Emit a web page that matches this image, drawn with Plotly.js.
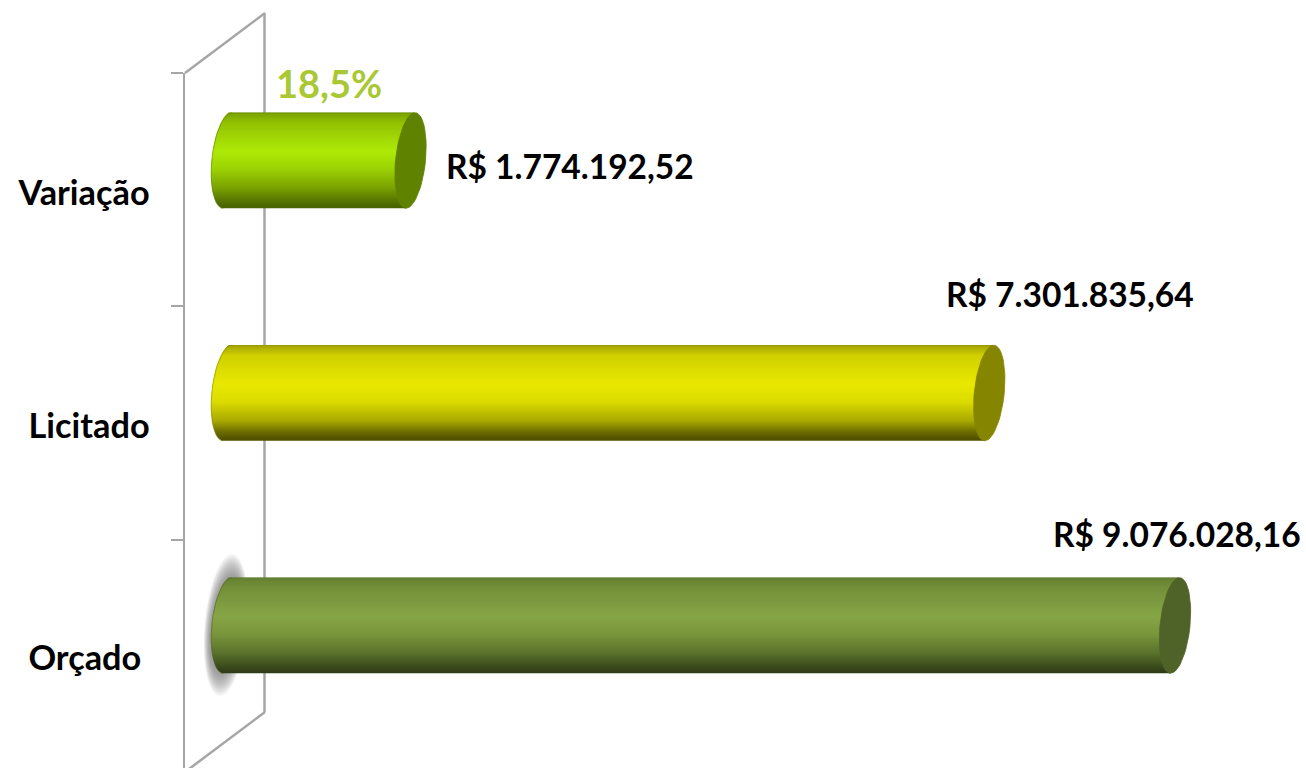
<!DOCTYPE html>
<html>
<head>
<meta charset="utf-8">
<script src="https://cdn.plot.ly/plotly-3.0.1.min.js"></script>
<style>html,body{margin:0;padding:0;background:#fff;overflow:hidden}#chart{width:1306px;height:768px}</style>
</head>
<body>
<div id="chart"></div>
<script>
// ---- data (bottom to top) ----
const categories = ["Orçado\u00a0", "Licitado", "Variação"];
const values = [9076028.16, 7301835.64, 1774192.52];
const valueLabels = ["R$ 9.076.028,16", "R$ 7.301.835,64", "R$ 1.774.192,52"];
const percentLabel = "18,5%";

// ---- styles ----
const capColors = ["#4f6228", "#858500", "#5f8200"];
const stopsAt = [0, 0.03, 0.12, 0.42, 0.6, 0.8, 0.92, 1];
const stopColors = [
  [[90,114,44],[104,130,52],[116,144,58],[134,165,70],[122,150,60],[90,114,44],[64,82,30],[46,58,22]],
  [[140,140,0],[170,170,0],[208,208,0],[232,232,0],[220,220,0],[170,170,0],[110,110,0],[78,78,0]],
  [[100,132,0],[125,166,0],[146,194,2],[174,234,8],[156,210,4],[122,162,0],[90,122,0],[72,98,0]]
];
const FONT = "Lato, 'Open Sans', sans-serif";
const INK = "#000000";

// ---- geometry of the chart frame (pixels) ----
const W = 1306, H = 768, L = 185, T = 73;
const zeroPx = 224.75, pxPerUnit = 104.7e-6;
const rowPx = 232.5, row0Px = 658;
const barShift = 0.14, barHalf = 47.8 / rowPx;
const capA = 15, capSkew = 4.5;
const toValue = p => (p - zeroPx) / pxPerUnit;
const dx = p => p / pxPerUnit;
const toRow = p => (row0Px - p) / rowPx;
const xRange = [toValue(L), toValue(W)];
const yRange = [toRow(H), toRow(T)];

const traces = [];
const strips = 96;
const unit = 2 * barHalf / strips;
function mix(stops, f) {
  let i = 0;
  while (i < stopsAt.length - 2 && f > stopsAt[i + 1]) i++;
  const t = (f - stopsAt[i]) / (stopsAt[i + 1] - stopsAt[i]);
  const c = stops[i].map((v, k) => Math.round(v + (stops[i + 1][k] - v) * t));
  return `rgb(${c[0]},${c[1]},${c[2]})`;
}
const leftCenter = dx(3);
for (let s = 0; s < strips; s++) {
  const f = (s + 0.5) / strips;
  const u = 1 - 2 * f;                       // +1 top, -1 bottom
  const offs = dx(capSkew * u);
  const left = leftCenter + offs - dx(capA + 1) * Math.sqrt(1 - u * u);
  traces.push({
    type: "bar", orientation: "h",
    y: values.map((v, i) => i + barShift),
    x: values.map(v => v + offs - left),
    base: values.map(() => left),
    width: s === 0 ? unit : unit * 2.2,
    offset: barHalf - unit * (s + 1),
    opacity: 1,
    marker: { color: stopColors.map(st => mix(st, f)), opacity: 1, line: { width: 0 } },
    hoverinfo: "skip", showlegend: false
  });
}
// end caps and the left rim, placed from the values
function arc(cx, cy, a0, a1, a) {
  const xs = [], ys = [];
  for (let d = a0; d <= a1; d += 6) {
    const t = d * Math.PI / 180;
    xs.push(cx + dx(a) * Math.cos(t) + dx(capSkew) * Math.sin(t));
    ys.push(cy + barHalf * Math.sin(t));
  }
  return { xs, ys };
}
values.forEach((v, i) => {
  const e = arc(v, i + barShift, 0, 360, capA);
  traces.push({
    type: "scatter", mode: "lines", x: e.xs, y: e.ys, fill: "toself",
    fillcolor: capColors[i], line: { width: 0.8, color: capColors[i] },
    hoverinfo: "skip", showlegend: false
  });
  const r = arc(leftCenter, i + barShift, 90, 270, capA + 1);
  traces.push({
    type: "scatter", mode: "lines", x: r.xs, y: r.ys,
    line: { width: 1, color: capColors[i] }, opacity: 0.55,
    hoverinfo: "skip", showlegend: false
  });
});

// ---- frame: the slanted wall behind the bars ----
const px = p => (p - L) / (W - L), py = p => (H - p) / (H - T);
const wall = (a, b, c, d) => ({
  type: "line", xref: "paper", yref: "paper", layer: "below",
  x0: px(a), y0: py(b), x1: px(c), y1: py(d),
  line: { color: "#a6a6a6", width: 2.5 }
});
const shapes = [
  wall(185, 73, 265, 13),
  wall(264.5, 13, 264.5, 712),
  wall(265, 712, 185, 772)
];
// soft shadow behind the lowest bar
for (let k = 0; k < 14; k++) {
  const hw = 21.5 - k * 0.45, hh = 71 - k * 1.6, cx = 226, cy = 625;
  const pts = [];
  for (let d = 0; d < 360; d += 10) {
    const t = d * Math.PI / 180;
    pts.push((d ? "L" : "M") + px(cx + hw * Math.cos(t) - 6 * Math.sin(t)).toFixed(5) + "," + py(cy + hh * Math.sin(t)).toFixed(5));
  }
  shapes.push({
    type: "path", xref: "paper", yref: "paper", layer: "below",
    path: pts.join(" ") + " Z", fillcolor: "rgba(90,90,90,0.055)", line: { width: 0 }
  });
}

// ---- text ----
const note = (text, a, b, color, size) => ({
  text, xref: "paper", yref: "paper", x: px(a), y: py(b),
  xanchor: "left", yanchor: "middle", showarrow: false,
  font: { family: FONT, size, color, weight: 700 }
});
const annotations = [
  note(valueLabels[2], 444, 166, INK, 33.5),
  note(valueLabels[1], 944, 294, INK, 33.5),
  note(valueLabels[0], 1051, 534, INK, 33.5),
  note(percentLabel, 274, 83, "#a9c834", 38)
];

const boundaries = [toRow(540), toRow(306), toRow(73)];
const layout = {
  width: W, height: H, autosize: false,
  margin: { l: L, r: 0, t: T, b: 0, pad: 0 },
  paper_bgcolor: "#ffffff", plot_bgcolor: "rgba(0,0,0,0)",
  barmode: "overlay", showlegend: false, hovermode: false,
  xaxis: { range: xRange, visible: false, fixedrange: true },
  yaxis: {
    range: yRange, type: "linear", fixedrange: true,
    tickmode: "array", tickvals: [0, 1, 2], ticktext: categories,
    ticks: "", ticklabelstandoff: 26, showgrid: false, zeroline: false,
    showline: true, linecolor: "#a6a6a6", linewidth: 2.5,
    tickfont: { family: FONT, size: 34.3, color: INK, weight: 700 },
    minor: { tickmode: "array", tickvals: boundaries, ticks: "outside", ticklen: 12, tickwidth: 2, tickcolor: "#a6a6a6", showgrid: false }
  },
  shapes, annotations
};
Plotly.newPlot("chart", traces, layout, { displayModeBar: false, staticPlot: true });
</script>
</body>
</html>
